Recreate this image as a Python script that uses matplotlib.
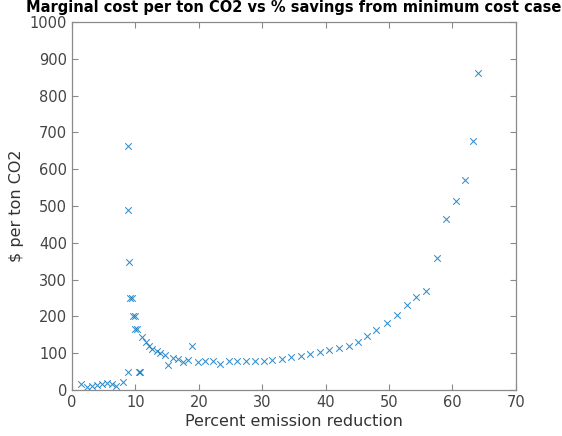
import matplotlib
matplotlib.use("Agg")
import matplotlib.pyplot as plt

# Percent emission reduction vs marginal cost ($ per ton CO2)
reduction = [1.5, 2.3, 3.1, 3.9, 4.7, 5.5, 6.3, 7.0, 8.0, 8.9, 10.6, 10.8,
             8.9, 8.9, 9.0, 9.2, 9.4, 9.7, 9.9, 10.0, 10.2,
             11.1, 11.7, 12.2, 12.7, 13.4, 13.9, 14.7, 15.2, 16.0, 16.8, 17.5,
             18.3, 19.0, 19.9, 21.0, 22.3, 23.4, 24.7, 26.1, 27.4, 28.9, 30.3,
             31.6, 33.1, 34.6, 36.1, 37.5, 39.1, 40.6, 42.1, 43.7, 45.1, 46.6,
             48.0, 49.6, 51.2, 52.8, 54.3, 55.9, 57.5, 59.0, 60.5, 62.0, 63.3,
             64.0]
cost = [16, 9, 12, 13, 15, 18, 15, 11, 23, 50, 48, 49,
        664, 489, 349, 250, 250, 202, 202, 166, 166,
        143, 130, 120, 111, 106, 101, 95, 68, 86, 83, 77,
        81, 120, 76, 79, 79, 72, 79, 79, 79, 79, 80,
        82, 83, 89, 92, 97, 102, 109, 115, 120, 131, 146,
        163, 181, 204, 231, 252, 269, 360, 464, 514, 571, 677,
        862]

x_ticks = list(range(0, 71, 10))
y_ticks = list(range(0, 1001, 100))

fig = plt.figure(figsize=(5.62, 4.36), dpi=100)
ax = fig.add_axes([0.128, 0.1055, 0.79, 0.8440])

ax.scatter(reduction, cost, marker="x", s=22, linewidths=0.75,
           color="#0072BD", alpha=0.8)

ax.set_xlim(0, 70)
ax.set_ylim(0, 1000)
ax.set_xticks(x_ticks)
ax.set_yticks(y_ticks)

gray = "#8a8a8a"
for side in ax.spines.values():
    side.set_color(gray)
    side.set_linewidth(0.9)
ax.tick_params(direction="in", length=4, width=0.8, color=gray,
               top=True, right=True, labelsize=10.5, labelcolor="#444444")

ax.set_xlabel("Percent emission reduction", fontsize=11.5, color="#333333",
              labelpad=3)
ax.set_ylabel("\\$ per ton CO2", fontsize=11.5, color="#333333", labelpad=4)
ax.set_title("Marginal cost per ton CO2 vs % savings from minimum cost case",
             fontsize=10.5, fontweight="bold", pad=7)

fig.savefig("out.png", dpi=100)
